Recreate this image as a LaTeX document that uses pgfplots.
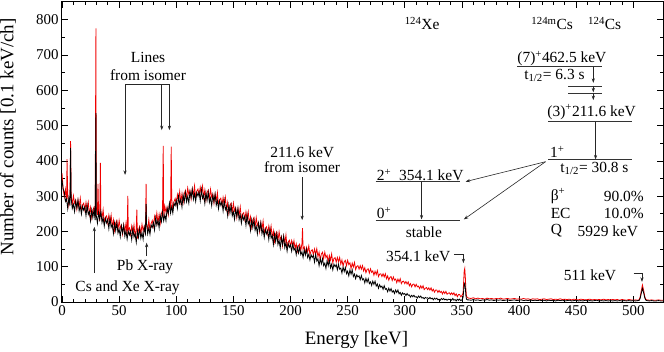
\documentclass[border=0pt]{standalone}
\usepackage{fontspec}
\setmainfont{Liberation Serif}
\usepackage{pgfplots}
\pgfplotsset{compat=1.18}
\usetikzlibrary{arrows.meta}
\newcommand\af{\fontsize{15.5}{17}\selectfont}
\definecolor{specred}{RGB}{240,0,0}
\begin{document}
\begin{tikzpicture}[ar/.style={-{Stealth[length=4.5bp,width=3.2bp]},line width=0.6bp,black!85},
  lv/.style={line width=0.8bp,black!80}]
\path[use as bounding box] (-62bp,-50bp) rectangle (602bp,302bp);
\begin{axis}[
  at={(0,0)}, anchor=south west,
  scale only axis, width=601bp, height=300bp,
  xmin=0, xmax=526, ymin=0, ymax=850,
  xtick={0,50,...,500}, minor x tick num=4,
  ytick={0,100,...,800}, minor y tick num=1,
  major tick length=6bp, minor tick length=3bp,
  tick style={line width=0.6bp,black},
  axis line style={line width=1bp,black},
  ticklabel style={font=\fontsize{15}{15}\selectfont},
  /pgf/number format/assume math mode=true,
  xlabel={Energy [keV]}, ylabel={Number of counts [0.1 keV/ch]},
  label style={font=\fontsize{19}{19}\selectfont},
  xlabel style={at={(axis description cs:0.49,-0.127)},anchor=center},
  ylabel style={at={(axis description cs:-0.09,0.55)},anchor=center},
  clip mode=individual,
]
% red spectrum
\addplot[specred, line width=0.8bp] coordinates {
(0,365)(1,321)(2,298)(3,319)(4,284)(4.4,405)(5,303)(6,273)(7,295)(7.5,456)(8,301)(9,275)(10,301)(11,280)(12,288)(13,263)(14,289)(15,270)(16,294)(17,259)(18,275)(19,280)
(20,260)(21,282)(22,260)(23,282)(24,248)(25,268)(26,239)(27,261)(28,268)(29,242)(29.7,775)(30,269)(31,247)(31.5,335)(32,256)(33,230)(33.6,394)(34,257)(35,237)(36,261)(37,225)(38,240)(39,244)
(40,224)(41,246)(42,224)(43,246)(44,212)(45,232)(46,202)(47,224)(48,231)(49,205)(50,231)(51,209)(52,217)(53,192)(54,218)(55,198)(56,223)(57,188)(57.6,301)(58,205)(59,210)
(60,191)(61,215)(62,194)(63,218)(64,185)(65,207)(65.5,262)(66,180)(67,205)(68,214)(69,191)(70,220)(71,202)(72,214)(73,191)(73.6,335)(74,221)(75,205)(76,233)(77,202)(78,222)(79,231)
(80,215)(81,242)(82,225)(83,252)(84,223)(85,248)(86,223)(87,250)(88,261)(88.6,442)(89,240)(90,271)(91,254)(92,268)(93,247)(94,279)(95,264)(95.6,440)(96,293)(97,262)(98,284)(99,293)
(100,278)(101,304)(102,286)(103,313)(104,283)(105,307)(106,281)(107,306)(108,316)(109,294)(110,323)(111,304)(112,315)(113,292)(114,320)(115,303)(116,329)(117,295)(118,314)(119,320)
(120,302)(121,325)(122,305)(123,328)(124,296)(125,317)(126,288)(127,310)(128,317)(129,292)(130,319)(131,297)(132,305)(133,280)(134,306)(135,286)(136,310)(137,274)(138,290)(139,294)
(140,274)(141,296)(142,274)(143,296)(144,262)(145,282)(146,252)(147,274)(148,280)(149,254)(150,280)(151,258)(152,266)(153,239)(154,265)(155,245)(156,269)(157,233)(158,249)(159,253)
(160,233)(161,255)(162,233)(163,255)(164,221)(165,241)(166,211)(167,233)(168,239)(169,213)(170,239)(171,217)(172,225)(173,199)(174,225)(175,205)(176,229)(177,193)(178,209)(179,213)
(180,193)(181,215)(182,193)(183,215)(184,181)(185,201)(186,171)(187,193)(188,199)(189,173)(190,199)(191,177)(192,185)(193,159)(194,186)(195,166)(196,190)(197,154)(198,170)(199,175)
(200,158)(201,174)(202,158)(203,174)(204,151)(205,165)(206,144)(207,160)(208,164)(209,146)(210,165)(210.5,209)(211,150)(212,156)(213,137)(214,155)(215,142)(216,159)(217,134)(218,145)(219,148)
(220,134)(221,150)(222,135)(223,151)(224,128)(225,141)(226,120)(227,136)(228,141)(229,123)(230,141)(231,126)(232,132)(233,114)(234,132)(235,119)(236,136)(237,111)(238,123)(239,126)
(240,113)(241,126)(242,114)(243,126)(244,107)(245,119)(246,102)(247,114)(248,118)(249,103)(250,118)(251,106)(252,111)(253,95)(254,110)(255,99)(256,112)(257,92)(258,101)(259,103)
(260,93)(261,103)(262,93)(263,103)(264,88)(265,97)(266,83)(267,92)(268,94)(269,82)(270,94)(271,84)(272,88)(273,76)(274,87)(275,78)(276,89)(277,72)(278,79)(279,80)
(280,72)(281,80)(282,71)(283,80)(284,66)(285,74)(286,62)(287,70)(288,72)(289,61)(290,71)(291,62)(292,65)(293,55)(294,65)(295,57)(296,66)(297,52)(298,58)(299,59)
(300,52)(301,58)(302,51)(303,57)(304,46)(305,52)(306,43)(307,50)(308,51)(309,43)(310,50)(311,43)(312,45)(313,38)(314,46)(315,39)(316,46)(317,35)(318,39)(319,41)
(320,35)(321,40)(322,34)(323,40)(324,31)(325,36)(326,28)(327,34)(328,34)(329,27)(330,33)(331,27)(332,30)(333,23)(334,30)(335,24)(336,30)(337,22)(338,25)(339,26)
(340,21)(341,26)(342,21)(343,26)(344,18)(345,23)(346,15)(347,21)(348,21)(349,15)(350,18)
(351,25)(351.5,55)(352,88)(352.5,95)(353,70)(353.5,35)(354,16)(355,12)(356,11)
(358,10)(360,12)(362,9)(364,11)(366,9)(368,10)(370,8)(372,11)(374,9)(376,10)(378,8)(380,10)(382,9)(384,11)(386,8)(388,9)(390,10)(392,8)(394,9)(396,10)(398,8)
(400,9)(402,8)(404,10)(406,8)(408,9)(410,7)(412,9)(414,8)(416,9)(418,7)(420,8)(422,9)(424,7)(426,8)(428,9)(430,7)(432,8)(434,7)(436,9)(438,7)(440,8)(442,7)(444,8)(446,6)(448,8)
(450,7)(452,6)(454,8)(456,7)(458,6)(460,7)(462,8)(464,6)(466,7)(468,6)(470,7)(472,6)(474,8)(476,6)(478,7)(480,6)(482,7)(484,6)(486,7)(488,5)(490,7)(492,6)(494,5)(496,7)(498,6)
(500,5)(502,6)(504,5)(505,6)(506,14)(507,32)(508,48)(509,34)(510,16)(511,7)(512,6)(514,5)(516,6)(518,5)(520,5)(522,6)(524,5)(526,5)
};
% black spectrum
\addplot[black, line width=0.8bp] coordinates {
(0,345)(1,320)(2,312)(3,285)(4,292)(5,265)(6,295)(7,273)(7.5,437)(8,295)(9,265)(10,277)(11,256)(12,286)(13,267)(14,289)(15,258)(16,272)(17,249)(18,271)(19,260)
(20,270)(21,244)(22,274)(23,248)(24,256)(25,230)(26,261)(27,239)(28,262)(29,232)(29.7,535)(30,245)(31,223)(32,254)(33,234)(34,257)(35,225)(36,239)(37,215)(38,236)(39,224)
(40,234)(41,208)(42,238)(43,212)(44,220)(45,194)(46,224)(47,202)(48,225)(49,195)(50,207)(51,185)(52,215)(53,196)(54,218)(55,186)(56,201)(57,178)(58,201)(59,190)
(60,201)(61,177)(62,208)(63,184)(64,193)(65,169)(66,202)(67,183)(68,208)(69,181)(70,196)(71,178)(72,212)(73,195)(73.6,278)(74,221)(75,193)(76,211)(77,192)(78,218)(79,211)
(80,225)(81,204)(82,239)(83,218)(84,231)(85,210)(86,245)(87,228)(88,255)(89,230)(90,247)(91,230)(92,266)(93,251)(94,279)(95,252)(96,271)(97,252)(98,280)(99,273)
(100,288)(101,266)(102,300)(103,279)(104,291)(105,269)(106,303)(107,284)(108,310)(109,284)(110,299)(111,280)(112,313)(113,296)(114,320)(115,291)(116,307)(117,285)(118,310)(119,300)
(120,312)(121,287)(122,319)(123,294)(124,304)(125,279)(126,310)(127,288)(128,311)(129,282)(130,295)(131,273)(132,303)(133,284)(134,306)(135,274)(136,288)(137,264)(138,286)(139,274)
(140,284)(141,258)(142,288)(143,262)(144,270)(145,244)(146,274)(147,252)(148,274)(149,244)(150,256)(151,234)(152,264)(153,243)(154,265)(155,233)(156,247)(157,223)(158,245)(159,233)
(160,243)(161,217)(162,247)(163,221)(164,229)(165,203)(166,233)(167,211)(168,233)(169,203)(170,215)(171,193)(172,223)(173,203)(174,225)(175,193)(176,207)(177,183)(178,205)(179,193)
(180,203)(181,177)(182,207)(183,181)(184,189)(185,163)(186,193)(187,171)(188,193)(189,163)(190,175)(191,153)(192,183)(193,163)(194,186)(195,154)(196,168)(197,144)(198,166)(199,155)
(200,162)(201,144)(202,165)(203,147)(204,152)(205,134)(206,155)(207,139)(208,155)(209,134)(210,142)(211,126)(212,148)(213,133)(214,149)(215,126)(216,135)(217,119)(218,134)(219,126)
(220,132)(221,113)(222,135)(223,116)(224,122)(225,103)(226,123)(227,108)(228,123)(229,103)(230,110)(231,95)(232,117)(233,103)(234,119)(235,97)(236,107)(237,91)(238,107)(239,100)
(240,106)(241,91)(242,107)(243,93)(244,96)(245,82)(246,99)(247,86)(248,98)(249,80)(250,87)(251,74)(252,91)(253,79)(254,91)(255,72)(256,79)(257,66)(258,77)(259,71)
(260,74)(261,63)(262,75)(263,63)(264,66)(265,54)(266,67)(267,56)(268,66)(269,52)(270,57)(271,47)(272,59)(273,50)(274,59)(275,45)(276,51)(277,39)(278,49)(279,42)
(280,45)(281,36)(282,46)(283,36)(284,38)(285,29)(286,39)(287,31)(288,38)(289,28)(290,32)(291,24)(292,34)(293,27)(294,34)(295,23)(296,27)(297,19)(298,26)(299,22)
(300,24)(301,18)(302,24)(303,19)(304,20)(305,14)(306,19)(307,15)(308,19)(309,14)(310,15)(311,11)(312,17)(313,13)(314,17)(315,11)(316,13)(317,9)(318,13)(319,11)
(320,12)(321,9)(322,13)(323,9)(324,11)(325,6)(326,11)(327,8)(328,11)(329,6)(330,8)(331,5)(332,10)(333,7)(334,10)(335,6)(336,8)(337,5)(338,8)(339,7)
(340,8)(341,5)(342,10)(343,5)(344,7)(345,3)(346,8)(347,5)(348,8)(349,4)(350,6)
(351,12)(351.5,30)(352,50)(352.5,53)(353,40)(353.5,18)(354,8)(355,6)(356,6)
(358,5)(360,7)(362,5)(364,6)(366,4)(368,6)(370,5)(372,7)(374,5)(376,6)(378,4)(380,6)(382,5)(384,6)(386,4)(388,5)(390,6)(392,4)(394,5)(396,6)(398,4)
(400,5)(402,6)(404,4)(406,5)(408,4)(410,6)(412,4)(414,5)(416,4)(418,5)(420,4)(422,5)(424,3)(426,5)(428,4)(430,5)(432,3)(434,5)(436,4)(438,5)(440,3)(442,4)(444,5)(446,3)(448,4)
(450,5)(452,3)(454,4)(456,3)(458,5)(460,3)(462,4)(464,3)(466,4)(468,5)(470,3)(472,4)(474,3)(476,4)(478,3)(480,4)(482,3)(484,4)(486,3)(488,4)(490,3)(492,4)(494,3)(496,4)(498,3)
(500,4)(502,3)(504,4)(505,4)(506,10)(507,25)(508,38)(509,27)(510,12)(511,5)(512,4)(514,3)(516,4)(518,3)(520,3)(522,4)(524,3)(526,3)
};
% annotations on the spectrum
\node[font=\af] at (axis cs:75.3,694) {Lines};
\node[font=\af] at (axis cs:75.3,643) {from isomer};
\draw[line width=0.6bp,black!85] (axis cs:55.2,617) -- (axis cs:94,617);
\draw[ar] (axis cs:55.2,617) -- (axis cs:55.2,360);
\draw[ar] (axis cs:87.3,617) -- (axis cs:87.3,487);
\draw[ar] (axis cs:94,617) -- (axis cs:94,487);
\node[font=\af] at (axis cs:210.2,425) {211.6 keV};
\node[font=\af] at (axis cs:210.2,382) {from isomer};
\draw[ar] (axis cs:210.2,354) -- (axis cs:210.2,232);
\node[font=\af] at (axis cs:72.7,100) {Pb X-ray};
\draw[ar] (axis cs:74.1,130) -- (axis cs:74.1,168);
\node[font=\af] at (axis cs:57.4,40) {Cs and Xe X-ray};
\draw[ar] (axis cs:28.3,82) -- (axis cs:28.3,213);
\node[font=\af,anchor=east] at (axis cs:343,130) {354.1 keV};
\draw[ar] (axis cs:343,134) -- (axis cs:351.3,134) -- (axis cs:351.3,110);
\node[font=\af,anchor=east] at (axis cs:488,76) {511 keV};
\draw[ar] (axis cs:500.3,82) -- (axis cs:507.6,82) -- (axis cs:507.6,57);
% level scheme
\node[font=\af] at (axis cs:315.2,790) {\textsuperscript{124}Xe};
\node[font=\af] at (axis cs:429,790) {\textsuperscript{124m}Cs};
\node[font=\af] at (axis cs:475,790) {\textsuperscript{124}Cs};
\node[font=\af,anchor=west,inner sep=0pt] at (axis cs:398.4,690) {(7)\textsuperscript{+}462.5 keV};
\draw[lv] (axis cs:398.4,667) -- (axis cs:472.3,667);
\node[font=\af] at (axis cs:431,643) {t\textsubscript{1/2}= 6.3 s};
\draw[ar] (axis cs:465,667) -- (axis cs:465,621);
\draw[lv] (axis cs:443,612) -- (axis cs:472.3,612);
\draw[lv] (axis cs:443,592) -- (axis cs:472.3,592);
\draw[ar] (axis cs:465,612) -- (axis cs:465,594);
\draw[ar] (axis cs:465,592) -- (axis cs:465,572);
\node[font=\af,anchor=west,inner sep=0pt] at (axis cs:424.7,538) {(3)\textsuperscript{+}211.6 keV};
\draw[lv] (axis cs:425.6,511) -- (axis cs:498.5,511);
\draw[ar] (axis cs:467,511) -- (axis cs:467,404);
\draw[lv] (axis cs:425.6,404) -- (axis cs:498.5,404);
\node[font=\af,anchor=west,inner sep=0pt] at (axis cs:427,426) {1\textsuperscript{+}};
\node[font=\af] at (axis cs:466,379) {t\textsubscript{1/2}= 30.8 s};
\draw[ar] (axis cs:423.2,397.5) -- (axis cs:353.2,341);
\draw[ar] (axis cs:423.2,397.5) -- (axis cs:351.7,234);
\node[font=\af,anchor=west,inner sep=0pt] at (axis cs:275.5,360) {2\textsuperscript{+}};
\node[font=\af,anchor=east,inner sep=0pt] at (axis cs:351.5,360) {354.1 keV};
\draw[lv] (axis cs:274.4,341) -- (axis cs:348.2,341);
\draw[ar] (axis cs:314.7,341) -- (axis cs:314.7,234);
\draw[lv] (axis cs:274.4,232) -- (axis cs:348.2,232);
\node[font=\af,anchor=west,inner sep=0pt] at (axis cs:275.5,252) {0\textsuperscript{+}};
\node[font=\af] at (axis cs:316.7,199) {stable};
\node[font=\af,anchor=west,inner sep=0pt] at (axis cs:427.6,300) {β\textsuperscript{+}};
\node[font=\af,anchor=east,inner sep=0pt] at (axis cs:509.3,300) {90.0\%};
\node[font=\af,anchor=west,inner sep=0pt] at (axis cs:427.6,251) {EC};
\node[font=\af,anchor=east,inner sep=0pt] at (axis cs:509.3,251) {10.0\%};
\node[font=\af,anchor=west,inner sep=0pt] at (axis cs:427.6,201) {Q};
\node[font=\af,anchor=east,inner sep=0pt] at (axis cs:504.4,201) {5929 keV};
\end{axis}
\end{tikzpicture}
\end{document}
